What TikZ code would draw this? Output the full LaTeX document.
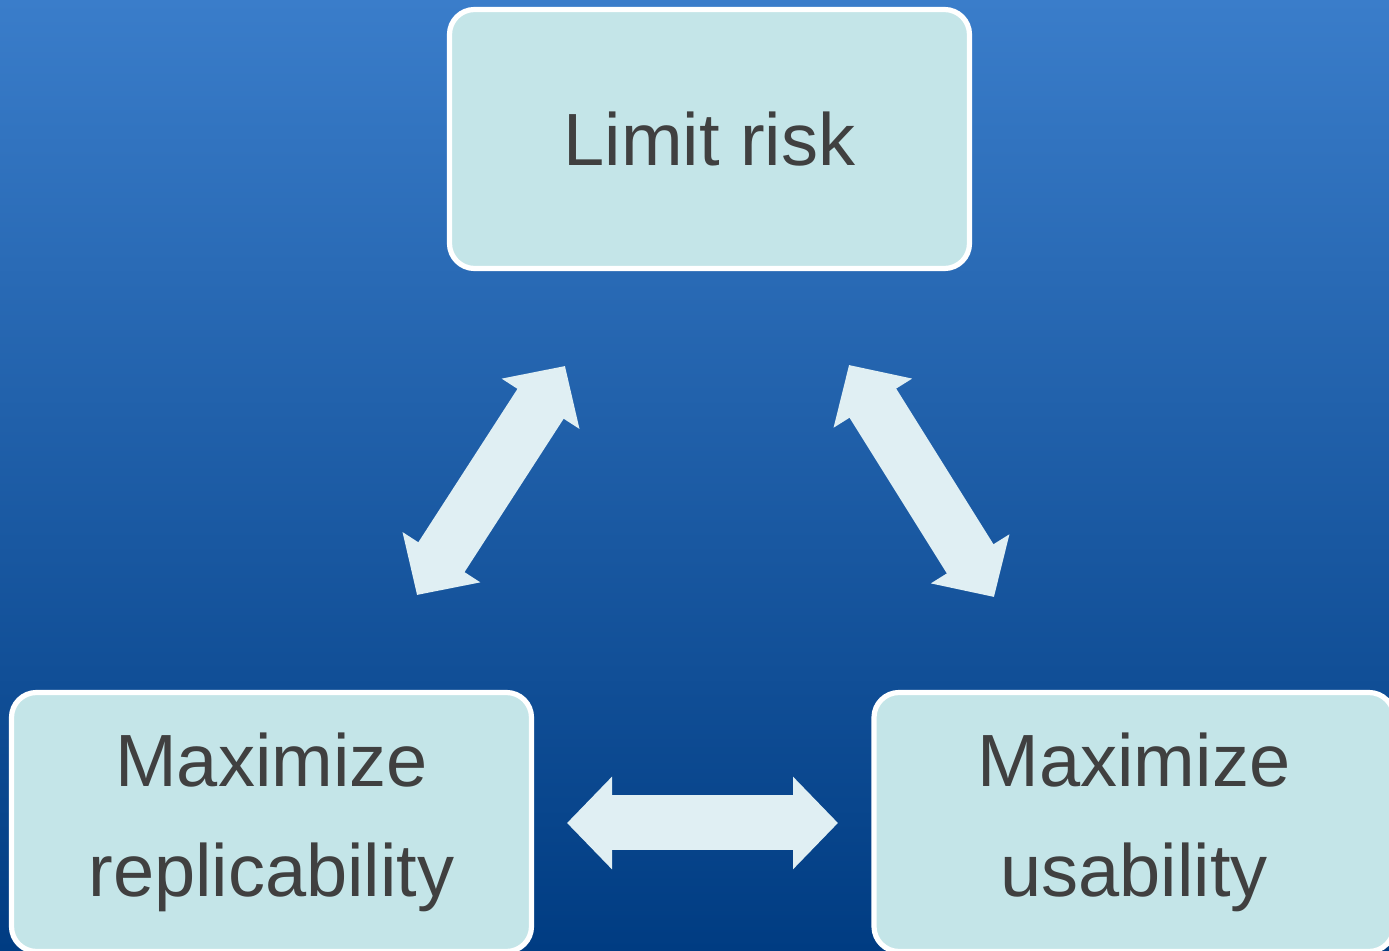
\documentclass[tikz,border=0pt]{standalone}
\usepackage{fontspec}
\setmainfont{Liberation Sans}
\usetikzlibrary{arrows.meta}

\definecolor{bgtop}{HTML}{3A7DCA}
\definecolor{bgbottom}{HTML}{003C82}
\definecolor{boxfill}{HTML}{C4E5E8}
\definecolor{arrowfill}{HTML}{E0EFF3}
\definecolor{boxtext}{HTML}{404040}

\tikzset{
  goal/.style={draw=white,line width=2.6pt,fill=boxfill,rounded corners=12.5pt,
    minimum width=260pt,minimum height=129.5pt,inner sep=0pt,
    text=boxtext,align=center,font=\fontsize{37}{55}\selectfont},
  link/.style={draw=arrowfill,line width=27.5pt,{Triangle[length=22.5pt 0 0,width=45pt 0 0]}-{Triangle[length=22.5pt 0 0,width=45pt 0 0]}}
}

\begin{document}
\begin{tikzpicture}[x=0.5pt,y=-0.5pt]

\clip (0,0) rectangle (1389,951);
\fill[top color=bgtop,bottom color=bgbottom] (0,0) rectangle (1389,951);

% goals
\node[goal] (risk) at (709.5,139) {Limit risk};
\node[goal] (repl) at (271.5,822) {Maximize\\replicability};
\node[goal] (usab) at (1134,822) {Maximize\\usability};

% free ends of the double arrows
\coordinate (riskL) at (565,366);
\coordinate (replT) at (417,595);
\coordinate (riskR) at (849,365);
\coordinate (usabT) at (994,597);
\coordinate (replR) at (567,823);
\coordinate (usabL) at (838,823);

\draw[link] (replT) -- (riskL);
\draw[link] (riskR) -- (usabT);
\draw[link] (replR) -- (usabL);

\end{tikzpicture}
\end{document}
